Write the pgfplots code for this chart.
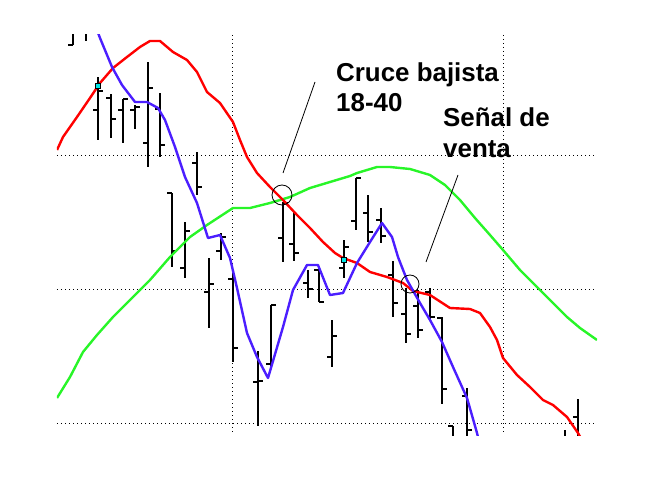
\documentclass[border=0pt]{standalone}
\usepackage{fontspec}
\setmainfont{Liberation Sans}
\usepackage{pgfplots}
\usepackage{pgfplotstable}
\pgfplotsset{compat=1.18}
\definecolor{mared}{RGB}{255,0,0}
\definecolor{mablue}{RGB}{75,30,255}
\definecolor{magreen}{RGB}{40,245,40}
\definecolor{macyan}{RGB}{0,230,230}

% OHLC bars (pixel coordinates: x, high, low, open, close)
\pgfplotstableread{
x hi lo op cl
73 20 45 45 30
86 20 41 30 32
98 77 140 110 91
111 94 138 98 119
123 99 143 110 99
135 105 129 110 107
148 62 167 143 88
160 93 157 109 145
172 193 267 193 251
185 222 278 268 231
197 152 195 163 187
209 258 328 292 284
221 233 260 251 237
233 270 362 279 348
258 351 426 382 381
271 305 367 364 305
283 202 262 238 203
294 212 261 244 253
308 270 298 283 289
319 268 302 270 302
332 320 367 357 336
344 240 278 268 247
356 178 230 221 178
368 195 242 213 232
381 208 243 220 236
393 261 317 275 303
406 288 343 314 334
418 290 338 306 330
430 288 320 292 317
442 317 404 318 389
453 426 470 426 440
467 388 470 396 430
479 440 490 450 470
492 450 500 470 480
504 455 505 460 490
516 450 500 490 470
528 445 495 460 480
541 445 490 480 450
553 440 485 450 470
565 430 480 440 460
578 399 445 417 440
}\ohlc

\begin{document}
\begin{tikzpicture}
\begin{axis}[
  scale only axis, width=540bp, height=400bp,
  xmin=57, xmax=597, ymin=35, ymax=435, y dir=reverse,
  axis line style={draw=none}, tick style={draw=none},
  xtick={232,503}, ytick={155,289,423},
  xticklabels={}, yticklabels={},
  grid=major,
  grid style={black, line width=0.9bp, dash pattern=on 0.9bp off 3.1bp},
  clip mode=individual,
]
% bars: high-low
\addplot[draw=none, mark=none,
  error bars/.cd, y dir=both, y explicit, error mark=none,
  error bar style={black, line width=1.2bp}]
  table[x=x, y expr={(\thisrow{hi}+\thisrow{lo})/2},
        y error expr={(\thisrow{lo}-\thisrow{hi})/2}] {\ohlc};
% open ticks
\addplot[draw=none, mark=none,
  error bars/.cd, x dir=minus, x fixed=5, error mark=none,
  error bar style={black, line width=1.2bp}]
  table[x=x, y=op] {\ohlc};
% close ticks
\addplot[draw=none, mark=none,
  error bars/.cd, x dir=plus, x fixed=5, error mark=none,
  error bar style={black, line width=1.2bp}]
  table[x=x, y=cl] {\ohlc};

% green (40)
\addplot[magreen, line width=2.4bp, line join=round, mark=none] coordinates {
(57,398) (70,377) (83,352) (97,335) (113,317) (133,297) (150,280) (170,257)
(190,237) (207,225) (233,208) (250,208) (270,203) (290,197) (310,188)
(330,182) (350,176) (357,173) (377,167) (390,167) (410,169) (430,175)
(445,185) (460,200) (475,218) (490,235) (503,250) (520,270) (537,287)
(553,303) (567,317) (580,328) (597,340)};
% red (18)
\addplot[mared, line width=2.4bp, line join=round, mark=none] coordinates {
(57,150) (63,137) (77,117) (90,98) (100,83) (113,68) (127,57) (140,47)
(150,41) (160,41) (173,52) (187,60) (197,72) (207,92) (220,103) (233,122)
(240,140) (247,157) (257,173) (270,187) (283,200) (297,215) (310,228)
(323,242) (335,253) (343,258) (357,263) (370,272) (387,277) (403,283)
(413,291) (430,295) (450,308) (470,309) (480,313) (490,327) (497,340)
(503,358) (517,375) (530,387) (543,400) (553,405) (567,417) (578,433)
(583,442)};
% blue
\addplot[mablue, line width=2.4bp, line join=round, mark=none] coordinates {
(95,25) (100,38) (112,67) (122,85) (135,102) (147,102) (158,108) (165,120)
(175,147) (185,177) (197,203) (208,238) (220,235) (230,258) (237,288)
(247,333) (257,357) (268,378) (283,327) (293,290) (307,265) (318,265)
(330,295) (343,293) (357,263) (370,242) (382,223) (392,237) (398,257)
(407,280) (420,303) (430,320) (442,342) (453,367) (467,398) (477,433)
(480,445)};

% cyan markers
\addplot[only marks, mark=square*, mark size=2.4bp,
  mark options={fill=macyan, draw=black, line width=0.6bp}]
  coordinates {(98,86) (344,260)};

% circles
\addplot[only marks, mark=o, mark size=10bp, mark options={black, line width=0.8bp}]
  coordinates {(282,195)};
\addplot[only marks, mark=o, mark size=9bp, mark options={black, line width=0.8bp}]
  coordinates {(410,284)};

% pointer lines
\addplot[black, line width=0.8bp, mark=none] coordinates {(283,173) (315,82)};
\addplot[black, line width=0.8bp, mark=none] coordinates {(426,262) (458,175)};

% texts
\node[anchor=base west, inner sep=0pt, font=\fontsize{26}{30}\selectfont\bfseries]
  at (axis cs:336,82) {Cruce bajista};
\node[anchor=base west, inner sep=0pt, font=\fontsize{26}{30}\selectfont\bfseries]
  at (axis cs:336,112) {18-40};
\node[anchor=base west, inner sep=0pt, font=\fontsize{26}{30}\selectfont\bfseries]
  at (axis cs:443,127) {Señal de};
\node[anchor=base west, inner sep=0pt, font=\fontsize{26}{30}\selectfont\bfseries]
  at (axis cs:443,158) {venta};

% full picture frame (bounding box only)
\path (axis cs:0,0) rectangle (axis cs:658,480);
\end{axis}
\end{tikzpicture}
\end{document}
